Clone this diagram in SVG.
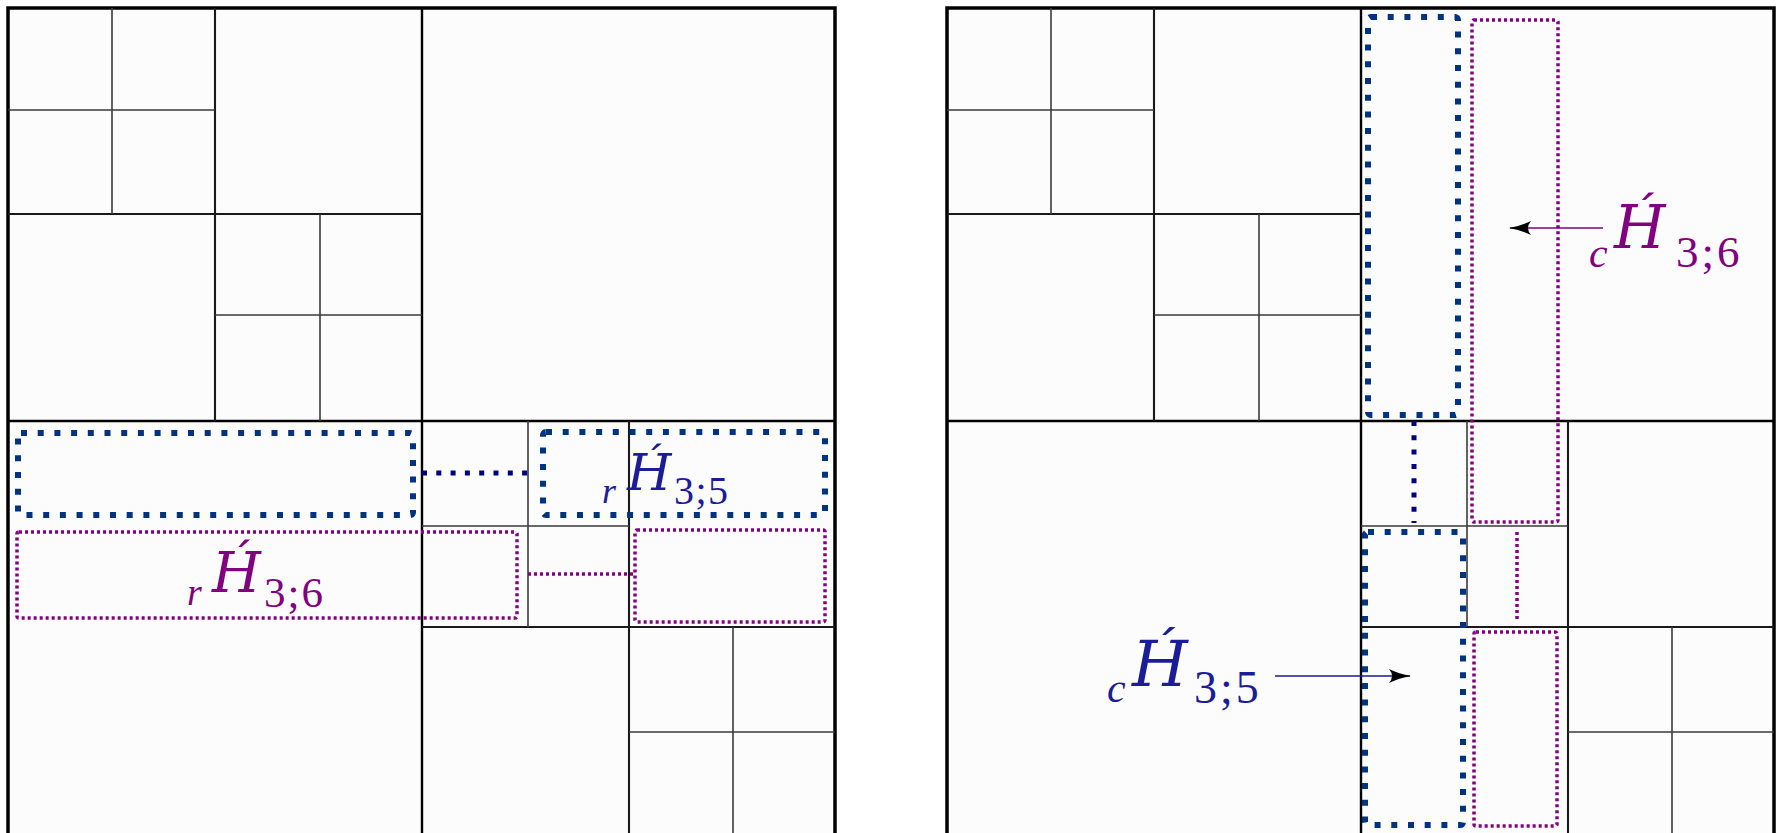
<svg xmlns="http://www.w3.org/2000/svg" xmlns:xlink="http://www.w3.org/1999/xlink" width="1777" height="833" viewBox="0 0 1777 833">
<style>
.outer{fill:#fcfcfc;stroke:#000;stroke-width:3.5}
.l1{stroke:#000;stroke-width:2.4;fill:none}
.l2{stroke:#1a1a1a;stroke-width:2.1;fill:none}
.l3{stroke:#3a3a3a;stroke-width:1.6;fill:none}
.blue{fill:none;stroke:#00337f;stroke-width:6;stroke-dasharray:6 10.7;stroke-linejoin:round}
.purple{fill:none;stroke:#800080;stroke-width:3.5;stroke-dasharray:3 3}
.bconn{fill:none;stroke:#00007f;stroke-width:5;stroke-dasharray:5 9.3}
.pconn{fill:none;stroke:#800080;stroke-width:3.5;stroke-dasharray:3 3}
.lab{font-family:"Liberation Serif","DejaVu Serif",serif}
.hh{font-family:"DejaVu Serif","Liberation Serif",serif;font-style:italic}
.it{font-style:italic}
.bt{fill:#1c1c96}
.pt{fill:#800080}
</style>
<defs>
<marker id="ah" viewBox="0 0 22 14" refX="21" refY="7" markerWidth="22" markerHeight="14" markerUnits="userSpaceOnUse" orient="auto">
<path d="M0,0 Q10,5 22,7 Q10,9 0,14 Q6,7 0,0 Z" fill="#000"/>
</marker>
<g id="grid">
<rect class="outer" x="8" y="8" width="827" height="830"/>
<line class="l1" x1="422" y1="8" x2="422" y2="838"/>
<line class="l1" x1="8" y1="421" x2="835" y2="421"/>
<line class="l2" x1="215" y1="8" x2="215" y2="421"/>
<line class="l2" x1="8" y1="214" x2="422" y2="214"/>
<line class="l3" x1="112" y1="8" x2="112" y2="214"/>
<line class="l3" x1="8" y1="110" x2="215" y2="110"/>
<line class="l3" x1="320" y1="214" x2="320" y2="421"/>
<line class="l3" x1="215" y1="315" x2="422" y2="315"/>
<line class="l2" x1="629" y1="421" x2="629" y2="838"/>
<line class="l2" x1="422" y1="627" x2="835" y2="627"/>
<line class="l3" x1="528" y1="421" x2="528" y2="627"/>
<line class="l3" x1="422" y1="526" x2="629" y2="526"/>
<line class="l3" x1="733" y1="627" x2="733" y2="838"/>
<line class="l3" x1="629" y1="732" x2="835" y2="732"/>
</g>
</defs>
<rect width="1777" height="833" fill="#fff"/>
<g id="panel-left"><use xlink:href="#grid"/></g>
<g id="panel-right"><use xlink:href="#grid" transform="translate(939,0)"/></g>

<g id="rH35-a"><rect class="blue" x="18" y="433" width="395" height="82" rx="3"/></g>
<g id="rH35-b"><rect class="blue" x="543" y="432" width="282" height="83" rx="3"/></g>
<g id="rH36-a"><rect class="purple" x="17" y="532" width="500" height="86" rx="2"/></g>
<g id="rH36-b"><rect class="purple" x="635" y="530" width="190" height="92" rx="2"/></g>

<g id="cH35-a"><rect class="blue" x="1368" y="17" width="90" height="398" rx="3"/></g>
<g id="cH35-b"><rect class="blue" x="1365" y="532" width="98" height="293" rx="3"/></g>
<g id="cH36-a"><rect class="purple" x="1472" y="20" width="86" height="502" rx="2"/></g>
<g id="cH36-b"><rect class="purple" x="1474" y="632" width="83" height="194" rx="2"/></g>

<g id="connectors">
<line class="bconn" x1="422" y1="473" x2="528" y2="473"/>
<line class="pconn" x1="528" y1="574" x2="634" y2="574"/>
<line class="bconn" x1="1414" y1="421" x2="1414" y2="523"/>
<line class="pconn" x1="1517" y1="532" x2="1517" y2="622"/>
<line x1="1603" y1="228" x2="1510" y2="228" stroke="#800080" stroke-width="1.5" marker-end="url(#ah)"/>
<line x1="1275" y1="676" x2="1410" y2="676" stroke="#1c1c96" stroke-width="1.5" marker-end="url(#ah)"/>
</g>

<g id="label-rH35">
<text class="lab bt"><tspan class="it" x="602" y="503" font-size="36">r</tspan><tspan class="hh" x="627" y="490" font-size="51">H́</tspan><tspan x="674" y="504" font-size="40" letter-spacing="1.5">3;5</tspan></text>
</g>
<g id="label-rH36">
<text class="lab pt"><tspan class="it" x="187" y="605" font-size="38">r</tspan><tspan class="hh" x="212" y="592" font-size="56">H́</tspan><tspan x="264" y="607" font-size="43" letter-spacing="2">3;6</tspan></text>
</g>
<g id="label-cH36">
<text class="lab pt"><tspan class="it" x="1589" y="267" font-size="42">c</tspan><tspan class="hh" x="1614" y="248" font-size="59">H́</tspan><tspan x="1676" y="267" font-size="45" letter-spacing="3">3;6</tspan></text>
</g>
<g id="label-cH35">
<text class="lab bt"><tspan class="it" x="1107" y="702" font-size="42">c</tspan><tspan class="hh" x="1132" y="686" font-size="64">H́</tspan><tspan x="1194" y="703" font-size="46" letter-spacing="3">3;5</tspan></text>
</g>
</svg>
